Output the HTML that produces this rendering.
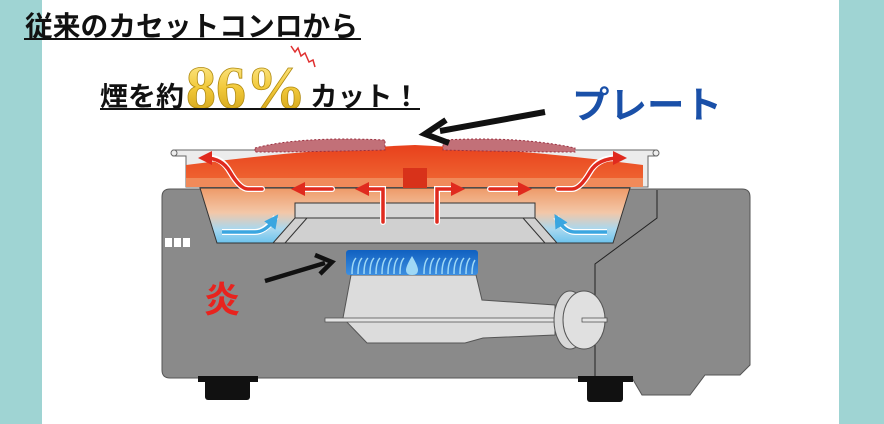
<!DOCTYPE html>
<html><head><meta charset="utf-8"><style>
html,body{margin:0;padding:0;background:#fff;}
svg{display:block;}
</style></head><body>
<svg width="884" height="424" viewBox="0 0 884 424" xmlns="http://www.w3.org/2000/svg">
<defs>
<linearGradient id="bowl" x1="0" y1="0" x2="0" y2="1">
<stop offset="0" stop-color="#ee9a68"/><stop offset="0.45" stop-color="#f3c7a8"/><stop offset="0.75" stop-color="#a9d8ef"/><stop offset="1" stop-color="#6cc3ee"/>
</linearGradient>
<linearGradient id="plate" x1="0" y1="0" x2="0" y2="1">
<stop offset="0" stop-color="#e8401c"/><stop offset="1" stop-color="#f06a35"/>
</linearGradient>
<linearGradient id="flame" x1="0" y1="0" x2="0" y2="1">
<stop offset="0" stop-color="#1060c0"/><stop offset="1" stop-color="#3d8fe0"/>
</linearGradient>
<linearGradient id="gold" x1="0" y1="0" x2="0" y2="1">
<stop offset="0" stop-color="#fff0a0"/><stop offset="0.5" stop-color="#f2c93a"/><stop offset="1" stop-color="#c99a10"/>
</linearGradient>
<marker id="ah" markerWidth="4" markerHeight="4" refX="2" refY="2" orient="auto"><path d="M0,0L4,2L0,4Z" fill="#e02a1e"/></marker>
<marker id="bh" markerWidth="4" markerHeight="4" refX="2" refY="2" orient="auto"><path d="M0,0L4,2L0,4Z" fill="#3aa6e0"/></marker>
</defs>
<rect x="0" y="0" width="42" height="424" fill="#9fd4d3"/>
<rect x="839" y="0" width="45" height="424" fill="#9fd4d3"/>

<!-- titles -->
<text x="25" y="36" font-family="'Liberation Sans','Noto Sans CJK JP',sans-serif" font-weight="bold" font-size="28" fill="#111" textLength="333" lengthAdjust="spacingAndGlyphs">従来のカセットコンロから</text>
<rect x="24" y="38" width="337" height="2" fill="#111"/>
<text x="100" y="106" font-family="'Liberation Sans','Noto Sans CJK JP',sans-serif" font-weight="bold" font-size="27" fill="#111" textLength="84" lengthAdjust="spacingAndGlyphs">煙を約</text>
<text x="186" y="108" font-family="'Liberation Serif',serif" font-weight="bold" font-size="60" fill="url(#gold)" stroke="#b08a10" stroke-width="0.8" textLength="120" lengthAdjust="spacingAndGlyphs">86%</text>
<text x="310" y="106" font-family="'Liberation Sans','Noto Sans CJK JP',sans-serif" font-weight="bold" font-size="27" fill="#111" textLength="110" lengthAdjust="spacingAndGlyphs">カット！</text>
<rect x="100" y="108" width="320" height="2" fill="#111"/>
<path d="M291,46 l4,6 l3,-4 l3,8 l4,-3 l4,9 l4,-2 l2,7" fill="none" stroke="#e03030" stroke-width="1.5"/>
<text x="572" y="118" font-family="'Liberation Sans','Noto Sans CJK JP',sans-serif" font-weight="bold" font-size="37" fill="#1a50a8" textLength="150" lengthAdjust="spacingAndGlyphs">プレート</text>

<!-- body -->
<path d="M170,189 H742 Q750,189 750,197 V365 L740,375 H705 L690,395 H642 L632,378 H170 Q162,378 162,370 V197 Q162,189 170,189Z" fill="#8a8a8a" stroke="#555" stroke-width="1"/>
<path d="M595,378 V264 L657,218 V190" fill="none" stroke="#222" stroke-width="1"/>
<rect x="205" y="378" width="45" height="22" rx="3" fill="#111"/>
<rect x="198" y="376" width="60" height="6" fill="#111"/>
<rect x="587" y="378" width="36" height="24" rx="3" fill="#111"/>
<rect x="578" y="376" width="55" height="6" fill="#111"/>
<rect x="165" y="238" width="7" height="9" fill="#fff"/><rect x="174" y="238" width="7" height="9" fill="#fff"/><rect x="183" y="238" width="7" height="9" fill="#fff"/>

<!-- bowl -->
<path d="M200,188 H630 L613,243 H217Z" fill="url(#bowl)" stroke="#333" stroke-width="1"/>
<path d="M295,218 H535 L557,243 H273Z" fill="#d0d0d0" stroke="#333" stroke-width="1"/>
<rect x="295" y="203" width="240" height="15" fill="#d6d6d6" stroke="#333" stroke-width="1"/>
<line x1="307" y1="218" x2="285" y2="243" stroke="#333"/><line x1="523" y1="218" x2="545" y2="243" stroke="#333"/>
<path d="M222,232 H255 Q265,232 276,217" fill="none" stroke="#fff" stroke-width="6"/>
<path d="M222,232 H255 Q265,232 274,220" fill="none" stroke="#3aa6e0" stroke-width="3.5" marker-end="url(#bh)"/>
<path d="M607,232 H575 Q565,232 556,217" fill="none" stroke="#fff" stroke-width="6"/>
<path d="M607,232 H575 Q565,232 558,220" fill="none" stroke="#3aa6e0" stroke-width="3.5" marker-end="url(#bh)"/>

<!-- plate -->
<path d="M173,150 H657 V156 H648 V187 H186 V156 H173Z" fill="#ececec" stroke="#666" stroke-width="1"/>
<circle cx="174" cy="153" r="3" fill="#eee" stroke="#666"/><circle cx="656" cy="153" r="3" fill="#eee" stroke="#666"/>
<path d="M186,165 Q300,150 415,145 Q530,150 643,165 V187 H186Z" fill="url(#plate)"/>
<rect x="186" y="178" width="457" height="9" fill="#f08a5a"/>
<rect x="403" y="168" width="24" height="20" fill="#d8321a"/>
<path d="M255,148 Q300,136 385,140 L385,150 Q310,152 255,152Z" fill="#c27078" stroke="#9a3040" stroke-dasharray="2 2"/>
<path d="M443,140 Q520,136 575,148 L575,152 Q520,152 443,150Z" fill="#c27078" stroke="#9a3040" stroke-dasharray="2 2"/>
<g fill="none" stroke-linecap="round">
<g stroke="#fff" stroke-width="6">
<path d="M262,189 H248 Q240,189 230,172 Q222,158 210,158"/><path d="M332,189 H300"/><path d="M383,222 V189 H365"/>
<path d="M437,222 V189 H455"/><path d="M490,189 H522"/><path d="M558,189 H572 Q580,189 590,172 Q598,158 615,158"/>
</g>
<g stroke="#e02a1e" stroke-width="3.5">
<path d="M262,189 H248 Q240,189 230,172 Q222,158 205,158" marker-end="url(#ah)"/>
<path d="M332,189 H298" marker-end="url(#ah)"/><path d="M383,222 V189 H362" marker-end="url(#ah)"/>
<path d="M437,222 V189 H458" marker-end="url(#ah)"/><path d="M490,189 H525" marker-end="url(#ah)"/>
<path d="M558,189 H572 Q580,189 590,172 Q598,158 620,158" marker-end="url(#ah)"/>
</g></g>

<!-- burner -->
<path d="M351,275 H476 L482,300 L555,305 V335 L483,338 L465,343 H367 L343,318Z" fill="#dcdcdc" stroke="#555" stroke-width="1"/>
<rect x="325" y="318" width="282" height="4" fill="#e4e4e4" stroke="#555" stroke-width="0.8"/>
<ellipse cx="570" cy="320" rx="16" ry="29" fill="#d8d8d8" stroke="#555"/>
<ellipse cx="584" cy="320" rx="21" ry="29" fill="#e0e0e0" stroke="#555"/>
<rect x="582" y="318" width="25" height="4" fill="#e4e4e4" stroke="#555" stroke-width="0.8"/>
<rect x="346" y="250" width="132" height="25" rx="3" fill="url(#flame)"/>
<g fill="none" stroke="#9fd8f5" stroke-width="1.5">
<path d="M352,274 q0,-12 4,-16 M358,274 q0,-12 4,-16 M364,274 q0,-12 4,-16 M370,274 q0,-12 4,-16 M376,274 q0,-12 4,-16 M382,274 q0,-12 4,-16 M388,274 q0,-12 4,-16 M394,274 q0,-12 4,-16 M400,274 q0,-12 4,-16 M424,274 q0,-12 4,-16 M430,274 q0,-12 4,-16 M436,274 q0,-12 4,-16 M442,274 q0,-12 4,-16 M448,274 q0,-12 4,-16 M454,274 q0,-12 4,-16 M460,274 q0,-12 4,-16 M466,274 q0,-12 4,-16 M472,274 q0,-10 3,-14"/>
</g>
<path d="M412,256 q-6,10 -6,14 q0,5 6,5 q6,0 6,-5 q0,-4 -6,-14Z" fill="#9fd8f5"/>

<!-- arrows -->
<path d="M545,112 L440,131" stroke="#111" stroke-width="6"/>
<path d="M446,120 L425,134 L449,143" fill="none" stroke="#111" stroke-width="6" stroke-linejoin="miter"/>
<path d="M265,281 L325,263" stroke="#111" stroke-width="4.5"/>
<path d="M315,255 L332,262 L320,274" fill="none" stroke="#111" stroke-width="4.5"/>
<text x="204" y="312" font-family="'Liberation Sans','Noto Sans CJK JP',sans-serif" font-weight="bold" font-size="36" fill="#e8231e">炎</text>
</svg>
</body></html>
